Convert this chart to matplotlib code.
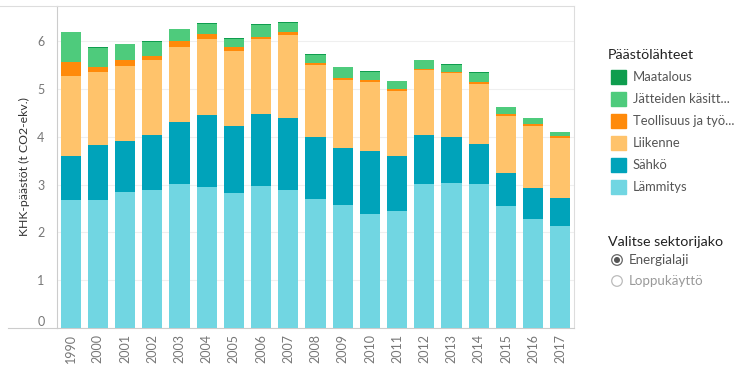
import numpy as np
import matplotlib
matplotlib.use('Agg')
import matplotlib.pyplot as plt
from matplotlib.patches import Rectangle, Circle

plt.rcParams['font.family'] = ['Lato', 'DejaVu Sans']

# Data (t CO2-ekv. per capita)
years = ['1990', '2000', '2001', '2002', '2003', '2004', '2005', '2006', '2007', '2008',
         '2009', '2010', '2011', '2012', '2013', '2014', '2015', '2016', '2017']
lammitys = [2.68, 2.68, 2.84, 2.89, 3.01, 2.96, 2.82, 2.98, 2.89, 2.71,
            2.57, 2.39, 2.44, 3.01, 3.03, 3.01, 2.55, 2.29, 2.13]
sahko = [0.92, 1.15, 1.08, 1.15, 1.30, 1.49, 1.40, 1.49, 1.51, 1.28,
         1.19, 1.31, 1.15, 1.03, 0.96, 0.84, 0.70, 0.64, 0.60]
liikenne = [1.68, 1.52, 1.56, 1.56, 1.57, 1.59, 1.57, 1.57, 1.73, 1.51,
            1.44, 1.45, 1.38, 1.36, 1.35, 1.25, 1.18, 1.29, 1.25]
teollisuus = [0.29, 0.12, 0.12, 0.09, 0.13, 0.11, 0.09, 0.06, 0.06, 0.05,
              0.03, 0.04, 0.04, 0.03, 0.02, 0.04, 0.04, 0.04, 0.04]
jatteet = [0.62, 0.40, 0.34, 0.30, 0.24, 0.22, 0.17, 0.24, 0.20, 0.16,
           0.23, 0.17, 0.15, 0.18, 0.15, 0.20, 0.15, 0.13, 0.08]
maatalous = [0.01, 0.01, 0.01, 0.01, 0.01, 0.01, 0.01, 0.02, 0.01, 0.02,
             0.01, 0.01, 0.01, 0.01, 0.01, 0.01, 0.01, 0.01, 0.01]

series = [('Lämmitys', lammitys, '#71d6e2'),
          ('Sähkö', sahko, '#00a3ba'),
          ('Liikenne', liikenne, '#ffc36b'),
          ('Teollisuus ja työ...', teollisuus, '#ff8a0a'),
          ('Jätteiden käsitt...', jatteet, '#4ecb7c'),
          ('Maatalous', maatalous, '#0f9d4e')]

fig = plt.figure(figsize=(7.54, 3.68), dpi=100)
ax = fig.add_axes([57 / 754, 40 / 368, 517 / 754, 322 / 368])

x = np.arange(len(years))
bottom = np.zeros(len(years))
for name, vals, col in series:
    ax.bar(x, vals, width=0.74, bottom=bottom, color=col, zorder=3)
    bottom += np.array(vals)

ax.set_xlim(-0.5, len(years) - 0.5)
ax.set_ylim(0, 6.74)
ax.set_yticks(range(7))
ax.set_xticks(x)
ax.set_xticklabels(years, rotation=90, fontsize=9, color='#777777')
ax.set_yticklabels([str(i) for i in range(7)], fontsize=9, color='#777777')
ax.get_yticklabels()[0].set_va('bottom')
ax.tick_params(axis='both', length=0)
ax.tick_params(axis='y', pad=9)
ax.tick_params(axis='x', pad=4)
ax.grid(axis='y', color='#efefef', linewidth=0.8, zorder=0)
for side in ['top', 'right']:
    ax.spines[side].set_color('#dddddd')
for side in ['left', 'bottom']:
    ax.spines[side].set_color('#cccccc')
ax.set_ylabel('KHK-päästöt (t CO2-ekv.)', fontsize=8.8, color='#333333', labelpad=5)

# overlay in pixel coordinates for legend and radio buttons
ov = fig.add_axes([0, 0, 1, 1], facecolor='none')
ov.set_xlim(0, 754)
ov.set_ylim(368, 0)
ov.axis('off')
ov.plot([8, 57], [328, 328], color='#cccccc', linewidth=0.8)
ov.plot([0, 57], [6, 6], color='#dddddd', linewidth=0.8)

ov.text(608, 55, 'Päästölähteet', fontsize=10.3, color='#222222', va='center')
legend_items = list(reversed(series))
for i, (name, vals, col) in enumerate(legend_items):
    yc = 77 + i * 22
    ov.add_patch(Rectangle((611, yc - 7), 15, 14, color=col))
    ov.text(633, yc, name, fontsize=9.4, color='#555555', va='center')

ov.text(608, 242, 'Valitse sektorijako', fontsize=10.3, color='#222222', va='center')
ov.add_patch(Circle((617, 260), 5.3, fill=False, edgecolor='#666666', linewidth=0.9))
ov.add_patch(Circle((617, 260), 2.3, color='#555555'))
ov.text(629, 260, 'Energialaji', fontsize=9.6, color='#555555', va='center')
ov.add_patch(Circle((617, 281), 5.3, fill=False, edgecolor='#bbbbbb', linewidth=0.9))
ov.text(629, 281, 'Loppukäyttö', fontsize=9.6, color='#999999', va='center')

fig.savefig('out.png', dpi=100)
